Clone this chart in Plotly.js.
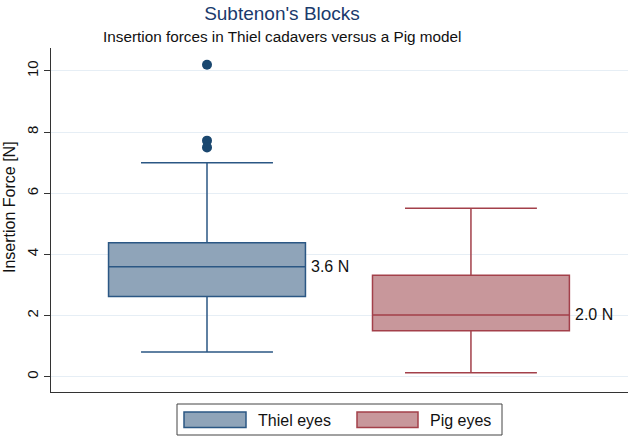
<!DOCTYPE html>
<html>
<head>
<meta charset="utf-8">
<script src="https://cdn.plot.ly/plotly-3.0.1.min.js"></script>
<style>html,body{margin:0;padding:0;background:#fff;}#chart{width:628px;height:437px;}</style>
</head>
<body>
<div id="chart"></div>
<script>
// Data
const groups = ["Thiel eyes", "Pig eyes"];
const q1 = [2.62, 1.50];
const medians = [3.60, 2.02];
const q3 = [4.38, 3.32];
const lowerWhisker = [0.81, 0.13];
const upperWhisker = [7.00, 5.51];
const thielOutliers = [10.2, 7.72, 7.5];
const medianLabels = ["3.6 N", "2.0 N"];
const yTicks = [0, 2, 4, 6, 8, 10];

const W = 628, H = 437;
const L = 51, R = 0, T = 48, B = 45;
const pw = W - L - R, ph = H - T - B;
const px2x = p => (p - L) / pw;
const py2y = p => (H - B - p) / ph;

const lineCols = ["#2b5784", "#a3404a"];
const fillCols = ["#8fa4b9", "#c8979b"];
const font = "Liberation Sans, Arial, sans-serif";

const traces = groups.map((g, i) => ({
  type: "box",
  name: g,
  x: [i],
  q1: [q1[i]], median: [medians[i]], q3: [q3[i]],
  lowerfence: [lowerWhisker[i]], upperfence: [upperWhisker[i]],
  width: 0.746,
  whiskerwidth: 0.67,
  line: {color: lineCols[i], width: 1.5},
  fillcolor: fillCols[i],
  boxpoints: false,
  showlegend: false,
  hoverinfo: "skip"
}));
traces.push({
  type: "scatter", mode: "markers",
  x: thielOutliers.map(() => 0), y: thielOutliers,
  marker: {color: "#1a476f", size: 10},
  showlegend: false, hoverinfo: "skip"
});

const annotations = medianLabels.map((t, i) => ({
  x: i + 0.373, y: medians[i], xref: "x", yref: "y",
  text: t, showarrow: false, xanchor: "left", yanchor: "middle", xshift: 4,
  font: {family: font, size: 16, color: "#111"}
}));
annotations.push({
  x: px2x(282), y: py2y(37), xref: "paper", yref: "paper",
  text: "Insertion forces in Thiel cadavers versus a Pig model",
  showarrow: false, xanchor: "center", yanchor: "middle",
  font: {family: font, size: 15.3, color: "#111"}
});
annotations.push({
  x: px2x(9), y: py2y(207), xref: "paper", yref: "paper",
  text: "Insertion Force [N]", textangle: -90,
  showarrow: false, xanchor: "center", yanchor: "middle",
  font: {family: font, size: 16, color: "#111"}
});
// manual legend
const legendItems = [
  {sx0: 184, sx1: 246, tx: 256},
  {sx0: 357, sx1: 418, tx: 428}
];
const shapes = [{
  type: "rect", xref: "paper", yref: "paper",
  x0: px2x(177), x1: px2x(502), y0: py2y(435), y1: py2y(404),
  line: {color: "#444", width: 1}, fillcolor: "rgba(0,0,0,0)"
}];
legendItems.forEach((it, i) => {
  shapes.push({
    type: "rect", xref: "paper", yref: "paper",
    x0: px2x(it.sx0), x1: px2x(it.sx1), y0: py2y(427.5), y1: py2y(412),
    line: {color: lineCols[i], width: 1.5}, fillcolor: fillCols[i]
  });
  annotations.push({
    x: px2x(it.tx), y: py2y(420), xref: "paper", yref: "paper",
    text: groups[i], showarrow: false, xanchor: "left", yanchor: "middle",
    font: {family: font, size: 16, color: "#111"}
  });
});

const layout = {
  width: W, height: H,
  margin: {l: L, r: R, t: T, b: B, pad: 0},
  paper_bgcolor: "#fff", plot_bgcolor: "#fff",
  title: {
    text: "Subtenon's Blocks",
    x: 282 / W, xref: "container", xanchor: "center",
    y: 1 - 13 / H, yref: "container", yanchor: "middle",
    font: {family: font, size: 19, color: "#1a3a6c"}
  },
  xaxis: {
    range: [-0.591, 1.595],
    showticklabels: false, ticks: "", showgrid: false, zeroline: false,
    showline: true, linecolor: "#333", linewidth: 1
  },
  yaxis: {
    range: [-0.5, 10.75],
    tickvals: yTicks, ticktext: yTicks.map(String),
    tickangle: -90, ticks: "outside", ticklen: 6, tickcolor: "#333",
    tickfont: {family: font, size: 15, color: "#111"},
    showgrid: true, gridcolor: "#e6eef5", gridwidth: 1,
    zeroline: false, showline: true, linecolor: "#333", linewidth: 1
  },
  annotations: annotations,
  shapes: shapes,
  showlegend: false
};

Plotly.newPlot("chart", traces, layout, {staticPlot: true, displayModeBar: false});
</script>
</body>
</html>
